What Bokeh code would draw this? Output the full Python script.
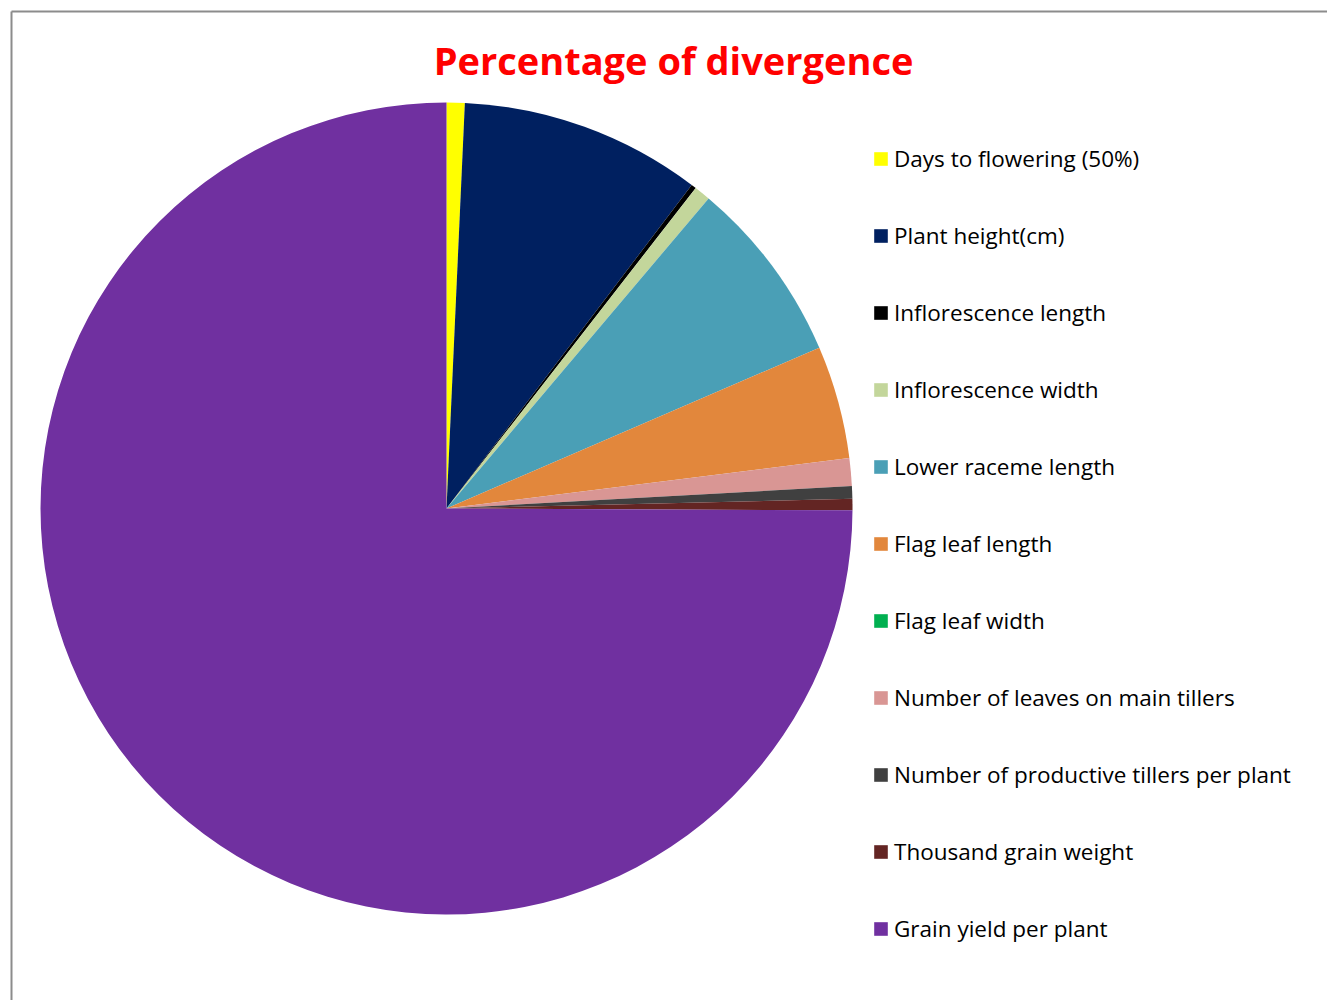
import math
from bokeh.plotting import figure
from bokeh.models import Range1d, Legend, LegendItem, ColumnDataSource
from bokeh.core.properties import value
from bokeh.embed import file_html
from bokeh.resources import INLINE

# ---- data ----
traits = [
    "Days to flowering (50%)",
    "Plant height(cm)",
    "Inflorescence length",
    "Inflorescence width",
    "Lower raceme length",
    "Flag leaf length",
    "Flag leaf width",
    "Number of leaves on main tillers",
    "Number of productive tillers per plant",
    "Thousand grain weight",
    "Grain yield per plant",
]
percent = [0.72, 9.6, 0.2, 0.65, 7.35, 4.5, 0.0, 1.1, 0.5, 0.45, 74.93]
colors = ["#FFFF00", "#002060", "#000000", "#C3D69B", "#4A9FB6", "#E2873C",
          "#00B050", "#D99694", "#404040", "#632523", "#7030A0"]
title_text = "Percentage of divergence"

W, H = 1327, 1000
p = figure(width=W, height=H, output_backend="svg", toolbar_location=None,
           x_range=Range1d(0, W), y_range=Range1d(0, H), min_border=0,
           match_aspect=False)
p.axis.visible = False
p.grid.visible = False
p.outline_line_color = None
p.background_fill_color = "white"
p.border_fill_color = "white"

# border (top and left lines)
p.segment(x0=[11, 11], y0=[H - 11, H - 11], x1=[W, 11], y1=[H - 11, 0],
          line_color="#8C8C8C", line_width=2)

# pie
total = sum(percent)
starts, ends = [], []
acc = 0.0
for v in percent:
    a0 = math.pi / 2 - 2 * math.pi * acc / total
    acc += v
    a1 = math.pi / 2 - 2 * math.pi * acc / total
    starts.append(a1)
    ends.append(a0)

R = 406
radii = [R if v > 0 else 0 for v in percent]  # zero slices are not drawn
src = ColumnDataSource(dict(trait=traits, pct=percent, color=colors,
                            start=starts, end=ends, radius=radii))
cx, cy = 446, H - 508
wr = p.wedge(x=cx, y=cy, radius="radius", start_angle="start", end_angle="end",
             fill_color="color", line_color=None, source=src)

# title
p.text(x=[673], y=[H - 59], text=[title_text], text_color="#FF0000",
       text_font_size="38px", text_font_style="bold", text_align="center",
       text_baseline="middle", text_font=value("Open Sans"))

legend = Legend(items=[LegendItem(label=t, renderers=[wr], index=i) for i, t in enumerate(traits)],
                location=(872, 56), orientation="vertical",
                label_text_font="Open Sans", label_text_font_size="22.5px",
                label_text_color="#000000",
                glyph_width=17, glyph_height=17, label_height=20, label_standoff=5,
                spacing=46, padding=0, margin=0,
                border_line_color=None, background_fill_alpha=0)
p.add_layout(legend, "center")

open("out.html", "w").write(file_html(p, INLINE))
